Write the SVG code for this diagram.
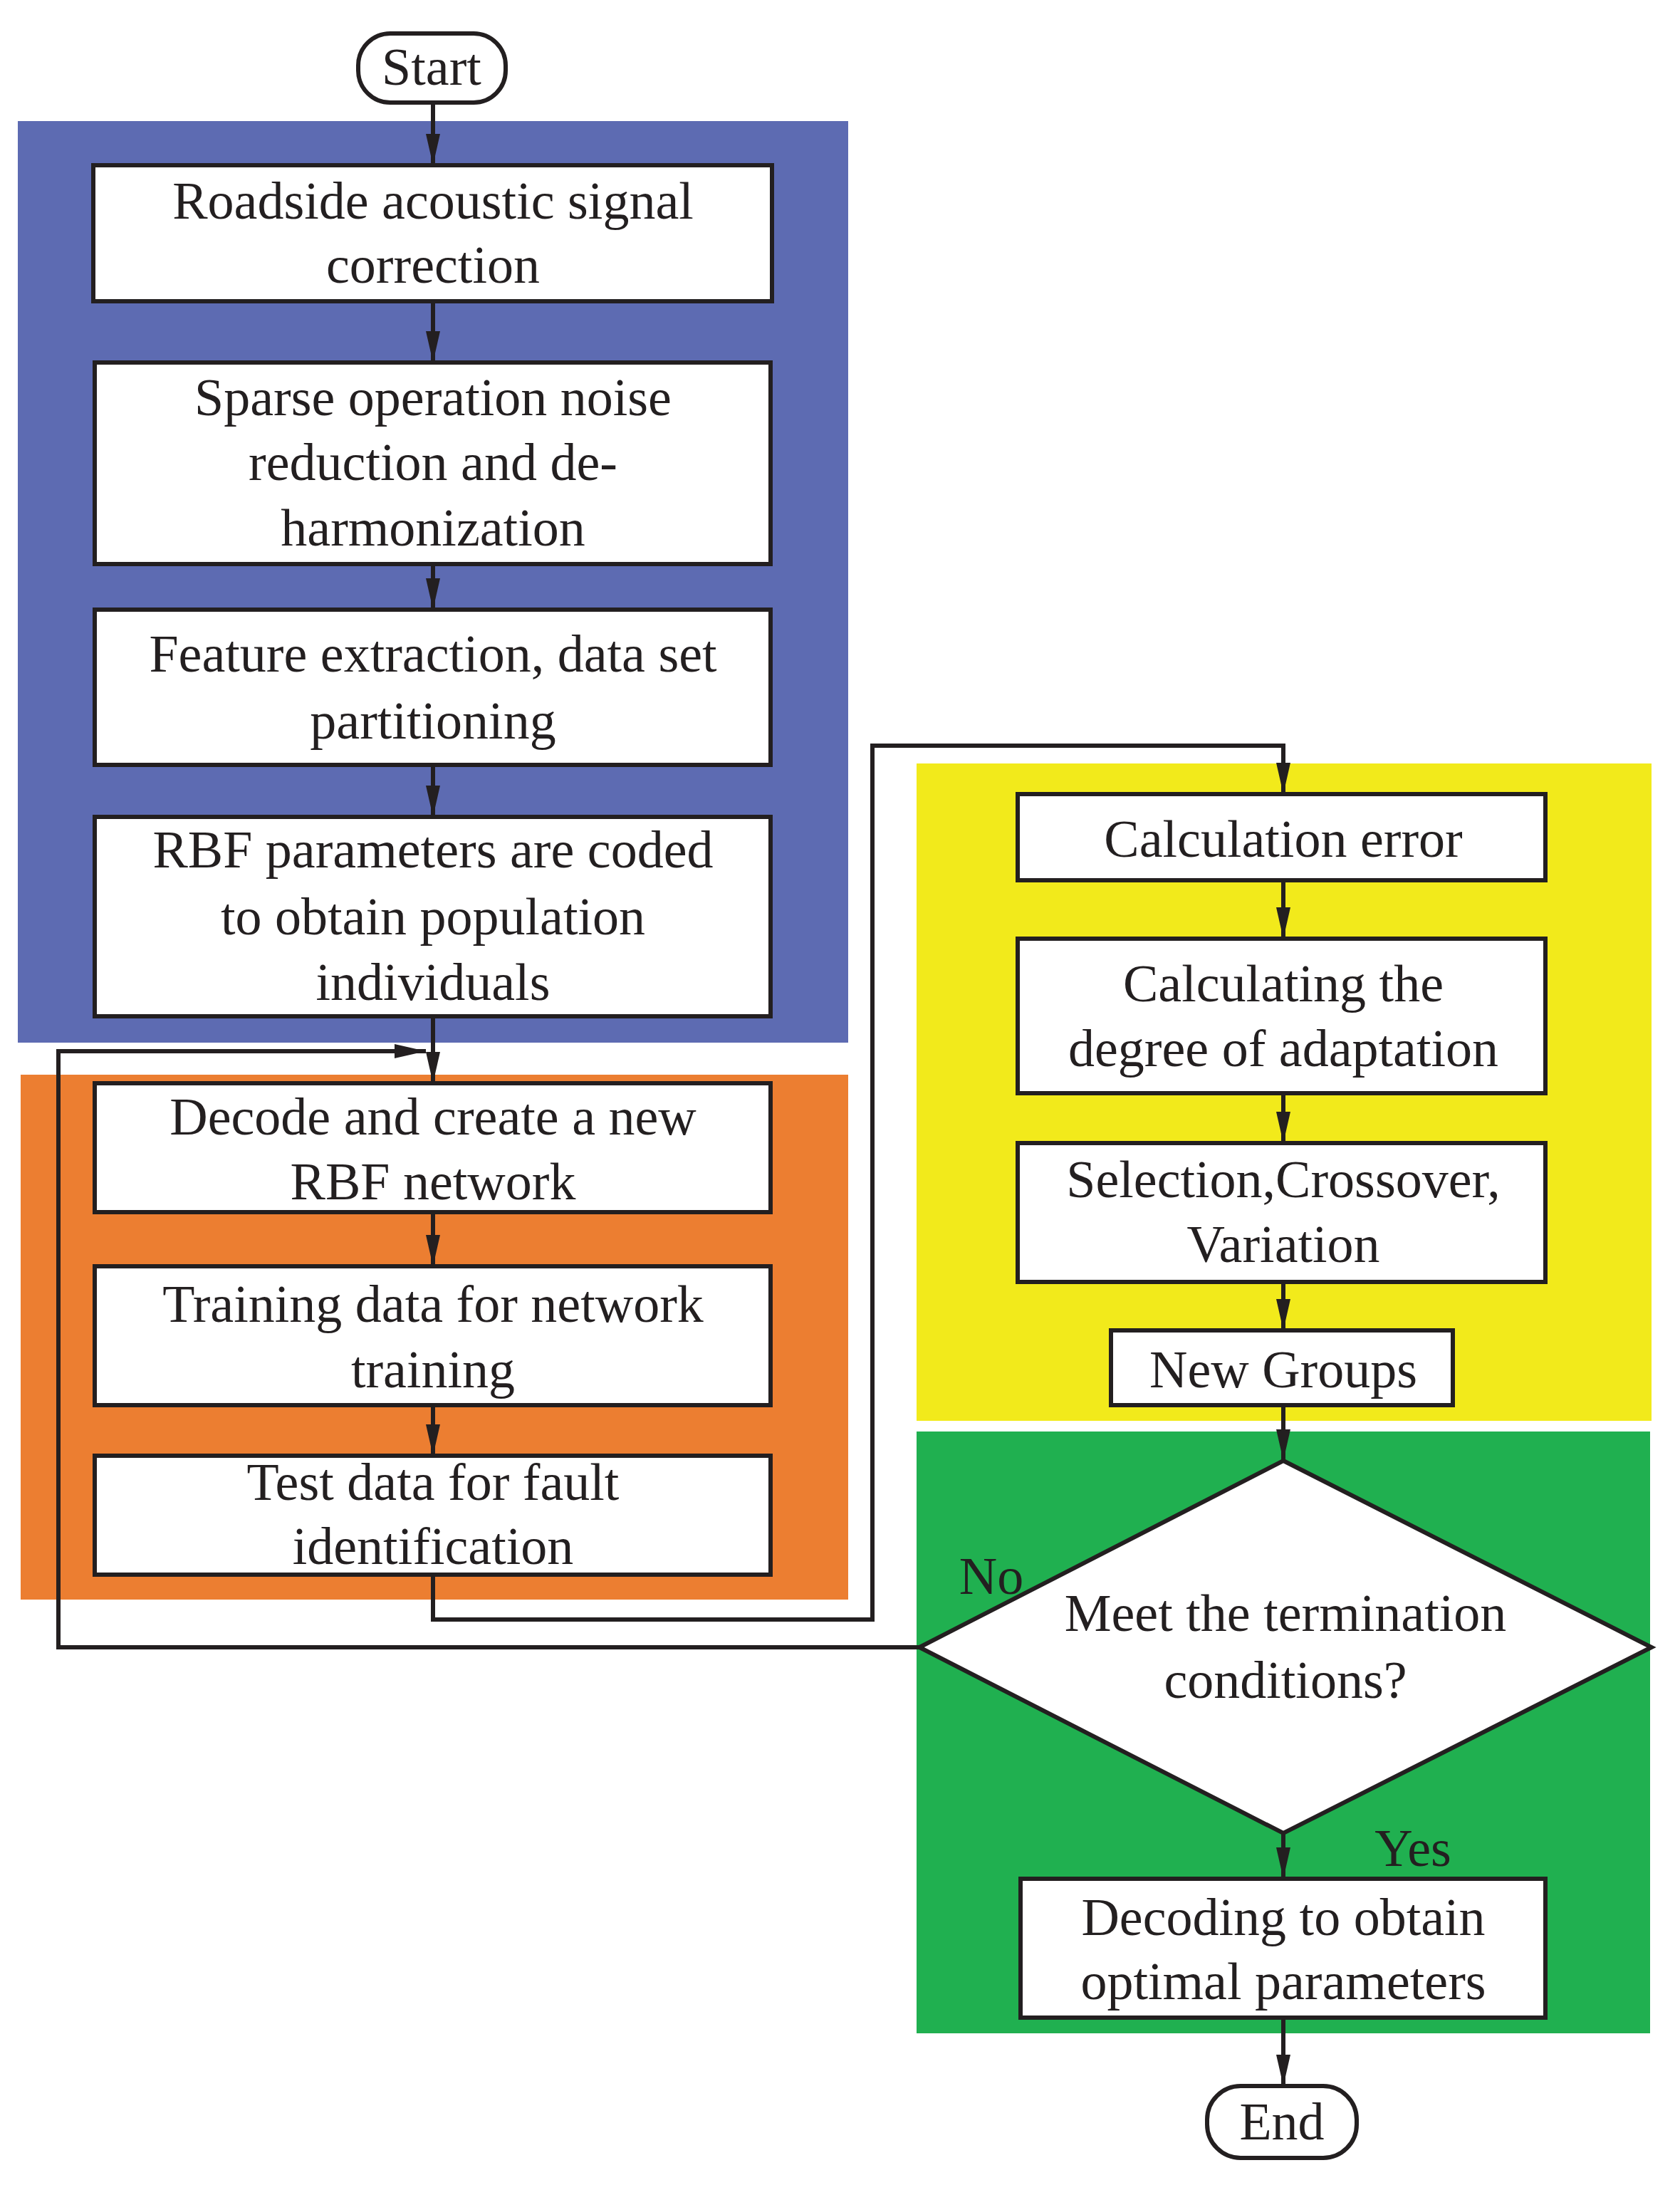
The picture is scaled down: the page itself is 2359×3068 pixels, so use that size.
<svg xmlns="http://www.w3.org/2000/svg" width="2359" height="3068" viewBox="0 0 2359 3068">
<style>
.b{fill:#fff;stroke:#231F20;stroke-width:6}
.t{font-family:"Liberation Serif","DejaVu Serif",serif;font-size:74px;fill:#231F20;text-anchor:middle}
.c{fill:none;stroke:#231F20;stroke-width:6}
</style>
<defs><marker id="a" markerWidth="10" markerHeight="12" refX="10" refY="6" orient="auto" markerUnits="userSpaceOnUse" viewBox="0 0 10 12"><path d="M0,0L10,6L0,12z" fill="#231F20"/></marker>
<marker id="h" viewBox="0 0 44 20" refX="44" refY="10" markerWidth="44" markerHeight="20" orient="auto" markerUnits="userSpaceOnUse"><path d="M0,0L44,10L0,20z" fill="#231F20"/></marker></defs>
<rect width="2359" height="3068" fill="#fff"/>
<g id="panels">
<rect x="25" y="170" width="1166" height="1294" fill="#5D6BB2"/>
<rect x="29" y="1509" width="1162" height="737" fill="#EC7E31"/>
<rect x="1287" y="1072" width="1032" height="923" fill="#F2EA1B"/>
<rect x="1287" y="2010" width="1030" height="845" fill="#20B050"/>
</g>
<g id="connectors">
<path class="c" d="M608,144V232" marker-end="url(#h)"/>
<path class="c" d="M608,423V509" marker-end="url(#h)"/>
<path class="c" d="M608,792V856" marker-end="url(#h)"/>
<path class="c" d="M608,1074V1147" marker-end="url(#h)"/>
<path class="c" d="M608,1427V1521" marker-end="url(#h)"/>
<path class="c" d="M608,1702V1778" marker-end="url(#h)"/>
<path class="c" d="M608,1973V2044" marker-end="url(#h)"/>
<path class="c" d="M608,2211V2274H1225V1047H1802V1115" marker-end="url(#h)"/>
<path class="c" d="M1802,1236V1318" marker-end="url(#h)"/>
<path class="c" d="M1802,1535V1605" marker-end="url(#h)"/>
<path class="c" d="M1802,1800V1868" marker-end="url(#h)"/>
<path class="c" d="M1802,1973V2051" marker-end="url(#h)"/>
<path class="c" d="M1291,2313H82V1476H598" marker-end="url(#h)"/>
<path class="c" d="M1802,2574V2638" marker-end="url(#h)"/>
<path class="c" d="M1802,2833V2929" marker-end="url(#h)"/>
</g>
<g id="start"><rect class="b" x="503" y="47" width="207" height="97" rx="45"/><text class="t" x="606" y="119">Start</text></g>
<g id="n1"><rect class="b" x="131" y="232" width="953" height="191"/><text class="t" x="608" y="307">Roadside acoustic signal</text><text class="t" x="608" y="397">correction</text></g>
<g id="n2"><rect class="b" x="133" y="509" width="949" height="283"/><text class="t" x="608" y="583">Sparse operation noise</text><text class="t" x="608" y="674">reduction and de-</text><text class="t" x="608" y="766">harmonization</text></g>
<g id="n3"><rect class="b" x="133" y="856" width="949" height="218"/><text class="t" x="608" y="943">Feature extraction, data set</text><text class="t" x="608" y="1037">partitioning</text></g>
<g id="n4"><rect class="b" x="133" y="1147" width="949" height="280"/><text class="t" x="608" y="1218">RBF parameters are coded</text><text class="t" x="608" y="1312">to obtain population</text><text class="t" x="608" y="1404">individuals</text></g>
<g id="n5"><rect class="b" x="133" y="1521" width="949" height="181"/><text class="t" x="608" y="1593">Decode and create a new</text><text class="t" x="608" y="1684">RBF network</text></g>
<g id="n6"><rect class="b" x="133" y="1778" width="949" height="195"/><text class="t" x="608" y="1856">Training data for network</text><text class="t" x="608" y="1948">training</text></g>
<g id="n7"><rect class="b" x="133" y="2044" width="949" height="167"/><text class="t" x="608" y="2106">Test data for fault</text><text class="t" x="608" y="2196">identification</text></g>
<g id="n8"><rect class="b" x="1429" y="1115" width="741" height="121"/><text class="t" x="1802" y="1203">Calculation error</text></g>
<g id="n9"><rect class="b" x="1429" y="1318" width="741" height="217"/><text class="t" x="1802" y="1406">Calculating the</text><text class="t" x="1802" y="1497">degree of adaptation</text></g>
<g id="n10"><rect class="b" x="1429" y="1605" width="741" height="195"/><text class="t" x="1802" y="1681">Selection,Crossover,</text><text class="t" x="1802" y="1772">Variation</text></g>
<g id="n11"><rect class="b" x="1560" y="1868" width="480" height="105"/><text class="t" x="1802" y="1948">New Groups</text></g>
<g id="n12"><path class="b" d="M1802,2051L2319,2313L1802,2574L1291,2313Z"/><text class="t" x="1805" y="2290">Meet the termination</text><text class="t" x="1805" y="2384">conditions?</text></g>
<g id="n13"><rect class="b" x="1433" y="2638" width="737" height="195"/><text class="t" x="1802" y="2717">Decoding to obtain</text><text class="t" x="1802" y="2807">optimal parameters</text></g>
<g id="end"><rect class="b" x="1695" y="2929" width="210" height="101" rx="47"/><text class="t" x="1800" y="3004">End</text></g>
<text class="t" x="1392" y="2238">No</text>
<text class="t" x="1984" y="2620">Yes</text>
</svg>
